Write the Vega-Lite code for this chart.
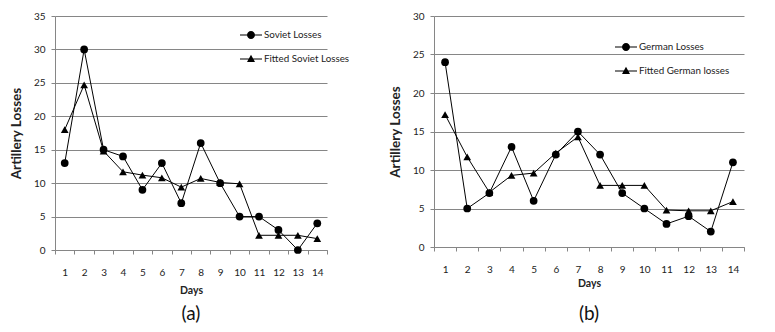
{
  "$schema": "https://vega.github.io/schema/vega-lite/v6.json",
  "padding": {"left": 9, "top": 11, "right": 5, "bottom": 5},
  "background": "white",
  "spacing": 107,
  "bounds": "flush",
  "config": {
    "font": "Lato",
    "view": {"stroke": null},
    "axis": {
      "labelFont": "Lato",
      "labelFontSize": 10,
      "labelColor": "#222",
      "titleFont": "Lato",
      "titleFontSize": 10.5,
      "titleFontWeight": "bold",
      "titleColor": "#222",
      "domainColor": "#868686",
      "tickColor": "#868686",
      "gridColor": "#868686",
      "tickSize": 4
    },
    "legend": {
      "labelFont": "Lato",
      "labelFontSize": 9.8,
      "labelColor": "#222"
    },
    "title": {"font": "Lato", "fontSize": 19, "fontWeight": "normal", "color": "#111", "orient": "bottom"}
  },
  "datasets": {
    "losses": [
      {"panel": "a", "day": 1, "series": "Soviet Losses", "value": 13},
      {"panel": "a", "day": 2, "series": "Soviet Losses", "value": 30},
      {"panel": "a", "day": 3, "series": "Soviet Losses", "value": 15},
      {"panel": "a", "day": 4, "series": "Soviet Losses", "value": 14},
      {"panel": "a", "day": 5, "series": "Soviet Losses", "value": 9},
      {"panel": "a", "day": 6, "series": "Soviet Losses", "value": 13},
      {"panel": "a", "day": 7, "series": "Soviet Losses", "value": 7},
      {"panel": "a", "day": 8, "series": "Soviet Losses", "value": 16},
      {"panel": "a", "day": 9, "series": "Soviet Losses", "value": 10},
      {"panel": "a", "day": 10, "series": "Soviet Losses", "value": 5},
      {"panel": "a", "day": 11, "series": "Soviet Losses", "value": 5},
      {"panel": "a", "day": 12, "series": "Soviet Losses", "value": 3},
      {"panel": "a", "day": 13, "series": "Soviet Losses", "value": 0},
      {"panel": "a", "day": 14, "series": "Soviet Losses", "value": 4},
      {"panel": "a", "day": 1, "series": "Fitted Soviet Losses", "value": 18},
      {"panel": "a", "day": 2, "series": "Fitted Soviet Losses", "value": 24.7},
      {"panel": "a", "day": 3, "series": "Fitted Soviet Losses", "value": 14.8},
      {"panel": "a", "day": 4, "series": "Fitted Soviet Losses", "value": 11.7},
      {"panel": "a", "day": 5, "series": "Fitted Soviet Losses", "value": 11.2},
      {"panel": "a", "day": 6, "series": "Fitted Soviet Losses", "value": 10.8},
      {"panel": "a", "day": 7, "series": "Fitted Soviet Losses", "value": 9.4},
      {"panel": "a", "day": 8, "series": "Fitted Soviet Losses", "value": 10.7},
      {"panel": "a", "day": 9, "series": "Fitted Soviet Losses", "value": 10.1},
      {"panel": "a", "day": 10, "series": "Fitted Soviet Losses", "value": 9.9},
      {"panel": "a", "day": 11, "series": "Fitted Soviet Losses", "value": 2.2},
      {"panel": "a", "day": 12, "series": "Fitted Soviet Losses", "value": 2.2},
      {"panel": "a", "day": 13, "series": "Fitted Soviet Losses", "value": 2.2},
      {"panel": "a", "day": 14, "series": "Fitted Soviet Losses", "value": 1.7},
      {"panel": "b", "day": 1, "series": "German Losses", "value": 24},
      {"panel": "b", "day": 2, "series": "German Losses", "value": 5},
      {"panel": "b", "day": 3, "series": "German Losses", "value": 7},
      {"panel": "b", "day": 4, "series": "German Losses", "value": 13},
      {"panel": "b", "day": 5, "series": "German Losses", "value": 6},
      {"panel": "b", "day": 6, "series": "German Losses", "value": 12},
      {"panel": "b", "day": 7, "series": "German Losses", "value": 15},
      {"panel": "b", "day": 8, "series": "German Losses", "value": 12},
      {"panel": "b", "day": 9, "series": "German Losses", "value": 7},
      {"panel": "b", "day": 10, "series": "German Losses", "value": 5},
      {"panel": "b", "day": 11, "series": "German Losses", "value": 3},
      {"panel": "b", "day": 12, "series": "German Losses", "value": 4},
      {"panel": "b", "day": 13, "series": "German Losses", "value": 2},
      {"panel": "b", "day": 14, "series": "German Losses", "value": 11},
      {"panel": "b", "day": 1, "series": "Fitted German losses", "value": 17.2},
      {"panel": "b", "day": 2, "series": "Fitted German losses", "value": 11.7},
      {"panel": "b", "day": 3, "series": "Fitted German losses", "value": 7.1},
      {"panel": "b", "day": 4, "series": "Fitted German losses", "value": 9.3},
      {"panel": "b", "day": 5, "series": "Fitted German losses", "value": 9.6},
      {"panel": "b", "day": 6, "series": "Fitted German losses", "value": 12.2},
      {"panel": "b", "day": 7, "series": "Fitted German losses", "value": 14.3},
      {"panel": "b", "day": 8, "series": "Fitted German losses", "value": 8.0},
      {"panel": "b", "day": 9, "series": "Fitted German losses", "value": 8.0},
      {"panel": "b", "day": 10, "series": "Fitted German losses", "value": 8.0},
      {"panel": "b", "day": 11, "series": "Fitted German losses", "value": 4.8},
      {"panel": "b", "day": 12, "series": "Fitted German losses", "value": 4.7},
      {"panel": "b", "day": 13, "series": "Fitted German losses", "value": 4.7},
      {"panel": "b", "day": 14, "series": "Fitted German losses", "value": 5.9}
    ]
  },
  "hconcat": [
    {
      "title": {"text": "(a)", "offset": 9},
      "width": 272,
      "height": 234,
      "data": {"name": "losses"},
      "transform": [{"filter": "datum.panel === 'a'"}],
      "encoding": {
        "x": {
          "field": "day", "type": "ordinal", "title": "Days",
          "scale": {"type": "band", "paddingInner": 0, "paddingOuter": 0},
          "axis": {"labelAngle": 0, "tickBand": "extent", "labelPadding": 13, "titlePadding": 8}
        },
        "y": {
          "field": "value", "type": "quantitative", "title": "Artillery Losses",
          "scale": {"domain": [0, 35], "nice": false},
          "axis": {"values": [0, 5, 10, 15, 20, 25, 30, 35], "labelPadding": 6, "titlePadding": 10, "titleFontSize": 13.5}
        }
      },
      "layer": [
        {
          "mark": {"type": "line", "color": "black", "strokeWidth": 1},
          "encoding": {"detail": {"field": "series"}}
        },
        {
          "mark": {"type": "point", "filled": true, "color": "black", "opacity": 1, "size": 60},
          "encoding": {
            "shape": {
              "field": "series", "legend": null,
              "scale": {"domain": ["Soviet Losses", "Fitted Soviet Losses"], "range": ["circle", "triangle-up"]}
            }
          }
        },
        {
          "mark": {"type": "point", "filled": true, "color": "black", "opacity": 0, "size": 100},
          "encoding": {
            "shape": {
              "field": "series",
              "scale": {
                "domain": ["Soviet Losses", "Fitted Soviet Losses"],
                "range": [
                  "M-2.2,-0.1H2.2V0.1H-2.2Z M0.8,0A0.8,0.8,0,1,1,-0.8,0A0.8,0.8,0,1,1,0.8,0Z",
                  "M-2.2,-0.1H2.2V0.1H-2.2Z M0,-0.85L0.8,0.6L-0.8,0.6Z"
                ]
              },
              "legend": {
                "title": null, "orient": "none", "legendX": 191, "legendY": 14,
                "symbolSize": 100, "labelOffset": 8, "rowPadding": 14,
                "symbolFillColor": "black", "symbolStrokeColor": "black", "symbolStrokeWidth": 0,
                "encode": {"symbols": {"update": {"fill": {"value": "black"}, "opacity": {"value": 1}}}}
              }
            }
          }
        }
      ],
      "resolve": {"scale": {"shape": "independent"}, "legend": {"shape": "independent"}}
    },
    {
      "title": {"text": "(b)", "offset": 16},
      "width": 310,
      "height": 231,
      "data": {"name": "losses"},
      "transform": [{"filter": "datum.panel === 'b'"}],
      "encoding": {
        "x": {
          "field": "day", "type": "ordinal", "title": "Days",
          "scale": {"type": "band", "paddingInner": 0, "paddingOuter": 0},
          "axis": {"labelAngle": 0, "tickBand": "extent", "labelPadding": 13, "titlePadding": 4}
        },
        "y": {
          "field": "value", "type": "quantitative", "title": "Artillery Losses",
          "scale": {"domain": [0, 30], "nice": false},
          "axis": {"values": [0, 5, 10, 15, 20, 25, 30], "labelPadding": 6, "titlePadding": 10, "titleFontSize": 13.5}
        }
      },
      "layer": [
        {
          "mark": {"type": "line", "color": "black", "strokeWidth": 1},
          "encoding": {"detail": {"field": "series"}}
        },
        {
          "mark": {"type": "point", "filled": true, "color": "black", "opacity": 1, "size": 60},
          "encoding": {
            "shape": {
              "field": "series", "legend": null,
              "scale": {"domain": ["German Losses", "Fitted German losses"], "range": ["circle", "triangle-up"]}
            }
          }
        },
        {
          "mark": {"type": "point", "filled": true, "color": "black", "opacity": 0, "size": 100},
          "encoding": {
            "shape": {
              "field": "series",
              "scale": {
                "domain": ["German Losses", "Fitted German losses"],
                "range": [
                  "M-2.2,-0.1H2.2V0.1H-2.2Z M0.8,0A0.8,0.8,0,1,1,-0.8,0A0.8,0.8,0,1,1,0.8,0Z",
                  "M-2.2,-0.1H2.2V0.1H-2.2Z M0,-0.85L0.8,0.6L-0.8,0.6Z"
                ]
              },
              "legend": {
                "title": null, "orient": "none", "legendX": 187, "legendY": 26,
                "symbolSize": 100, "labelOffset": 8, "rowPadding": 14,
                "symbolFillColor": "black", "symbolStrokeColor": "black", "symbolStrokeWidth": 0,
                "encode": {"symbols": {"update": {"fill": {"value": "black"}, "opacity": {"value": 1}}}}
              }
            }
          }
        }
      ],
      "resolve": {"scale": {"shape": "independent"}, "legend": {"shape": "independent"}}
    }
  ],
  "resolve": {"scale": {"shape": "independent"}}
}
